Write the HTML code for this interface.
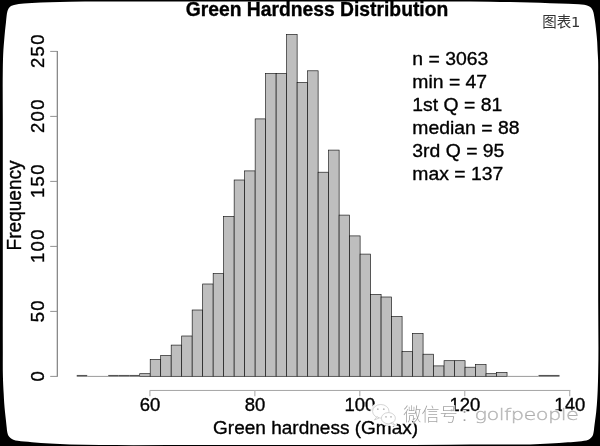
<!DOCTYPE html>
<html lang="zh"><head><meta charset="utf-8">
<title>Green Hardness Distribution</title>
<style>
html,body{margin:0;padding:0;background:#000;}
body{width:600px;height:446px;overflow:hidden;}
svg{display:block;}
.soft{filter:blur(0.45px);}
text{font-family:"Liberation Sans", sans-serif;fill:#000;}
.cjk{font-family:"Liberation Sans", "Noto Sans CJK SC", sans-serif;}
</style></head><body>
<svg width="600" height="446" viewBox="0 0 600 446">
<rect x="0" y="0" width="600" height="446" fill="#000"/>
<g class="soft"><path d="M 8.90 8.00 C 9.47 7.22 10.18 6.51 11.00 6.00 C 11.90 5.45 12.99 5.29 14.00 5.00 C 15.57 4.55 17.18 4.25 18.80 4.00 C 20.52 3.74 22.26 3.64 24.00 3.50 C 26.66 3.28 29.33 3.15 32.00 3.00 C 38.00 2.66 44.00 2.40 50.00 2.20 C 56.66 1.97 63.33 1.86 70.00 1.75 C 80.00 1.58 90.00 1.55 100.00 1.50 C 116.67 1.41 133.33 1.50 150.00 1.50 C 175.00 1.50 200.00 1.50 225.00 1.50 C 250.00 1.50 275.00 1.50 300.00 1.50 C 325.00 1.50 350.00 1.49 375.00 1.50 C 400.00 1.51 425.00 1.44 450.00 1.55 C 463.33 1.61 476.67 1.64 490.00 1.80 C 496.67 1.88 503.33 1.97 510.00 2.10 C 516.67 2.23 523.33 2.42 530.00 2.60 C 536.67 2.78 543.33 3.01 550.00 3.20 C 556.00 3.37 562.00 3.46 568.00 3.70 C 571.60 3.84 575.21 3.92 578.80 4.20 C 580.57 4.34 582.36 4.36 584.10 4.70 C 585.56 4.98 587.07 5.23 588.40 5.90 C 589.38 6.40 590.34 7.00 591.10 7.80 C 591.76 8.50 592.27 9.34 592.70 10.20 C 593.28 11.38 593.50 12.72 593.80 14.00 C 594.17 15.58 594.34 17.20 594.60 18.80 C 594.88 20.53 595.16 22.26 595.40 24.00 C 595.81 26.99 596.10 30.00 596.40 33.00 C 596.70 36.00 597.00 38.99 597.20 42.00 C 597.40 45.00 597.45 48.00 597.60 51.00 C 597.75 54.00 597.99 57.00 598.10 60.00 C 598.29 65.00 598.17 70.00 598.20 75.00 C 598.32 96.67 598.20 118.33 598.20 140.00 C 598.20 166.67 598.20 193.33 598.20 220.00 C 598.20 246.67 598.20 273.33 598.20 300.00 C 598.20 324.00 598.73 348.01 598.20 372.00 C 598.07 378.00 597.96 384.00 597.70 390.00 C 597.58 392.67 597.46 395.33 597.30 398.00 C 597.02 402.67 596.70 407.35 596.20 412.00 C 595.84 415.34 595.33 418.67 594.90 422.00 C 594.67 423.80 594.43 425.60 594.20 427.40 C 593.97 429.20 593.93 431.04 593.50 432.80 C 593.24 433.89 593.05 435.03 592.50 436.00 C 592.06 436.79 591.46 437.49 590.80 438.10 C 590.09 438.75 589.26 439.28 588.40 439.70 C 587.07 440.35 585.55 440.51 584.10 440.80 C 582.35 441.15 580.57 441.30 578.80 441.50 C 577.00 441.70 575.20 441.87 573.40 442.00 C 571.60 442.13 569.80 442.19 568.00 442.30 C 561.99 442.66 556.01 443.26 550.00 443.60 C 543.34 443.98 536.67 444.21 530.00 444.40 C 516.67 444.78 503.33 444.55 490.00 444.60 C 476.67 444.65 463.33 444.66 450.00 444.70 C 425.00 444.78 400.00 444.95 375.00 445.00 C 350.00 445.05 325.00 445.00 300.00 445.00 C 266.67 445.00 233.33 445.00 200.00 445.00 C 166.67 445.00 133.33 445.34 100.00 445.00 C 90.00 444.90 79.99 444.95 70.00 444.60 C 63.33 444.36 56.66 444.03 50.00 443.60 C 43.99 443.21 38.00 442.66 32.00 442.20 C 29.40 442.00 26.79 441.86 24.20 441.60 C 22.03 441.38 19.84 441.23 17.70 440.80 C 16.25 440.51 14.77 440.27 13.40 439.70 C 12.38 439.27 11.36 438.80 10.50 438.10 C 9.77 437.50 9.11 436.80 8.60 436.00 C 7.99 435.04 7.70 433.90 7.40 432.80 C 6.92 431.05 6.92 429.20 6.70 427.40 C 6.44 425.27 6.23 423.13 6.00 421.00 C 5.67 418.00 5.30 415.00 5.00 412.00 C 4.70 409.00 4.42 406.00 4.20 403.00 C 3.98 400.00 3.87 397.00 3.70 394.00 C 3.53 391.00 3.33 388.00 3.20 385.00 C 3.07 382.00 2.98 379.00 2.90 376.00 C 2.68 367.34 2.82 358.67 2.80 350.00 C 2.73 326.67 2.80 303.33 2.80 280.00 C 2.80 253.33 2.80 226.67 2.80 200.00 C 2.80 173.33 2.80 146.67 2.80 120.00 C 2.80 103.33 2.55 86.66 2.80 70.00 C 2.85 66.33 2.88 62.67 3.00 59.00 C 3.10 56.00 3.22 53.00 3.40 50.00 C 3.60 46.66 3.92 43.33 4.20 40.00 C 4.45 37.00 4.70 34.00 5.00 31.00 C 5.30 28.00 5.69 25.00 6.00 22.00 C 6.21 20.00 6.32 17.99 6.60 16.00 C 6.84 14.32 6.94 12.60 7.50 11.00 C 7.86 9.96 8.24 8.89 8.90 8.00 Z" fill="#fff"/></g>
<g fill="#bebebe" stroke="#111" stroke-width="0.65" stroke-linejoin="miter">
<rect x="139.70" y="373.70" width="10.50" height="2.60"/>
<rect x="150.20" y="359.40" width="10.50" height="16.90"/>
<rect x="160.69" y="355.50" width="10.50" height="20.80"/>
<rect x="171.19" y="345.10" width="10.50" height="31.20"/>
<rect x="181.69" y="336.00" width="10.50" height="40.30"/>
<rect x="192.18" y="310.00" width="10.50" height="66.30"/>
<rect x="202.68" y="284.00" width="10.49" height="92.30"/>
<rect x="213.17" y="273.60" width="10.50" height="102.70"/>
<rect x="223.66" y="216.40" width="10.50" height="159.90"/>
<rect x="234.16" y="180.00" width="10.50" height="196.30"/>
<rect x="244.66" y="170.90" width="10.50" height="205.40"/>
<rect x="255.15" y="118.90" width="10.49" height="257.40"/>
<rect x="265.64" y="73.40" width="10.50" height="302.90"/>
<rect x="276.14" y="73.40" width="10.50" height="302.90"/>
<rect x="286.63" y="34.40" width="10.50" height="341.90"/>
<rect x="297.13" y="82.50" width="10.50" height="293.80"/>
<rect x="307.62" y="70.80" width="10.50" height="305.50"/>
<rect x="318.12" y="172.20" width="10.50" height="204.10"/>
<rect x="328.62" y="150.10" width="10.50" height="226.20"/>
<rect x="339.11" y="215.10" width="10.50" height="161.20"/>
<rect x="349.61" y="235.90" width="10.50" height="140.40"/>
<rect x="360.10" y="254.10" width="10.50" height="122.20"/>
<rect x="370.60" y="294.40" width="10.50" height="81.90"/>
<rect x="381.09" y="297.00" width="10.50" height="79.30"/>
<rect x="391.59" y="316.50" width="10.50" height="59.80"/>
<rect x="402.08" y="351.60" width="10.49" height="24.70"/>
<rect x="412.57" y="333.40" width="10.50" height="42.90"/>
<rect x="423.07" y="354.20" width="10.50" height="22.10"/>
<rect x="433.56" y="365.90" width="10.50" height="10.40"/>
<rect x="444.06" y="360.70" width="10.50" height="15.60"/>
<rect x="454.56" y="360.70" width="10.50" height="15.60"/>
<rect x="465.05" y="367.20" width="10.50" height="9.10"/>
<rect x="475.55" y="364.60" width="10.50" height="11.70"/>
<rect x="486.04" y="373.70" width="10.50" height="2.60"/>
<rect x="496.54" y="372.40" width="10.50" height="3.90"/>
</g>
<g fill="#555">
<rect x="76.73" y="374.95" width="10.50" height="1.7"/>
<rect x="108.22" y="374.95" width="10.50" height="1.7"/>
<rect x="118.71" y="374.95" width="10.49" height="1.7"/>
<rect x="129.21" y="374.95" width="10.50" height="1.7"/>
<rect x="538.52" y="374.95" width="10.49" height="1.7"/>
<rect x="549.01" y="374.95" width="10.50" height="1.7"/>
</g>
<path d="M 87.23 376.40 H 108.22 M 507.03 376.40 H 538.52" stroke="#808080" stroke-width="0.8" fill="none"/>
<g fill="none">
<path d="M 57.3 376.70 V 50.90" stroke="#7a7a7a" stroke-width="1.15"/>
<path d="M 50.2 376.40 H 57.3 M 50.2 311.40 H 57.3 M 50.2 246.40 H 57.3 M 50.2 181.40 H 57.3 M 50.2 116.40 H 57.3 M 50.2 51.40 H 57.3" stroke="#8c8c8c" stroke-width="0.95"/>
<path d="M 149.70 390.45 H 570.40" stroke="#a4a4a4" stroke-width="1"/>
<path d="M 149.90 390.4 V 396.2 M 254.85 390.4 V 396.2 M 359.80 390.4 V 396.2 M 464.75 390.4 V 396.2 M 569.70 390.4 V 396.2" stroke="#b4b4b4" stroke-width="1.2"/>
</g>
<g class="soft" stroke="#000" stroke-width="0.35" stroke-linejoin="round">
<text transform="translate(150.00 411.20)" font-size="18.5" text-anchor="middle">60</text>
<text transform="translate(254.95 411.20)" font-size="18.5" text-anchor="middle">80</text>
<text transform="translate(359.90 411.20)" font-size="18.5" text-anchor="middle">100</text>
<text transform="translate(464.85 411.20)" font-size="18.5" text-anchor="middle">120</text>
<text transform="translate(569.80 411.20)" font-size="18.5" text-anchor="middle">140</text>
<text transform="translate(44.00 375.65) rotate(-90)" font-size="18.5" text-anchor="middle" letter-spacing="1.3">0</text>
<text transform="translate(44.00 310.65) rotate(-90)" font-size="18.5" text-anchor="middle" letter-spacing="1.3">50</text>
<text transform="translate(44.00 245.65) rotate(-90)" font-size="18.5" text-anchor="middle" letter-spacing="1.3">100</text>
<text transform="translate(44.00 180.65) rotate(-90)" font-size="18.5" text-anchor="middle" letter-spacing="1.3">150</text>
<text transform="translate(44.00 115.65) rotate(-90)" font-size="18.5" text-anchor="middle" letter-spacing="1.3">200</text>
<text transform="translate(44.00 50.65) rotate(-90)" font-size="18.5" text-anchor="middle" letter-spacing="1.3">250</text>
<text transform="translate(315.60 434.00) scale(1.04 1.0)" font-size="18.3" text-anchor="middle">Green hardness (Gmax)</text>
<text transform="translate(20.70 205.40) rotate(-90) scale(1.02 1.07)" font-size="18.7" text-anchor="middle">Frequency</text>
<text transform="translate(317.00 15.50)" font-size="19.3" text-anchor="middle" font-weight="bold">Green Hardness Distribution</text>
<text transform="translate(412.30 65.10) scale(1.037 1.0)" font-size="18.7" text-anchor="start">n = 3063</text>
<text transform="translate(412.30 88.05) scale(1.037 1.0)" font-size="18.7" text-anchor="start">min = 47</text>
<text transform="translate(412.30 111.00) scale(1.037 1.0)" font-size="18.7" text-anchor="start">1st Q = 81</text>
<text transform="translate(412.30 133.95) scale(1.037 1.0)" font-size="18.7" text-anchor="start">median = 88</text>
<text transform="translate(412.30 156.90) scale(1.037 1.0)" font-size="18.7" text-anchor="start">3rd Q = 95</text>
<text transform="translate(412.30 179.85) scale(1.037 1.0)" font-size="18.7" text-anchor="start">max = 137</text>
</g>
<text class="cjk soft" x="542.2" y="26.7" font-size="14.5" fill="#333" style="fill:#333">图表<tspan x="570.9" font-family="DejaVu Sans, sans-serif" font-size="14.7">1</tspan></text>
<g class="soft">
<g fill="#fff" stroke="#fff" stroke-width="4.4" stroke-linejoin="round" opacity="0.93"><ellipse cx="380.8" cy="411.3" rx="8.2" ry="6.8"/><path d="M 377 416.6 l -2.6 3.4 l 4.6 -2 z"/><ellipse cx="388.4" cy="418.2" rx="7" ry="5.6"/><path d="M 392.5 422.2 l 2.2 2.6 l -4.2 -1.6 z"/></g>
<g fill="#fff" stroke="#c4c4c4" stroke-width="0.7" stroke-linejoin="round"><ellipse cx="380.8" cy="411.3" rx="8.2" ry="6.8"/><path d="M 377 416.6 l -2.6 3.4 l 4.6 -2 z"/><ellipse cx="388.4" cy="418.2" rx="7" ry="5.6"/><path d="M 392.5 422.2 l 2.2 2.6 l -4.2 -1.6 z"/></g>
<g fill="#b8b8b8"><circle cx="386" cy="416.8" r="0.9"/><circle cx="391" cy="416.8" r="0.9"/><circle cx="377.8" cy="409.2" r="0.9"/><circle cx="383.8" cy="409.2" r="0.9"/></g>
<filter id="halo" x="-5%" y="-40%" width="110%" height="180%"><feMorphology in="SourceAlpha" operator="dilate" radius="1.1" result="d"/><feGaussianBlur in="d" stdDeviation="0.5" result="b"/><feFlood flood-color="#fff" flood-opacity="0.9"/><feComposite in2="b" operator="in" result="h"/><feMerge><feMergeNode in="h"/><feMergeNode in="SourceGraphic"/></feMerge></filter>
<text x="403.2" y="421.2" font-size="18.2" font-weight="300" filter="url(#halo)" style="font-family:'Liberation Sans','Noto Sans CJK SC',sans-serif;fill:#a2a2a2">微信号<tspan dx="4.2">:</tspan></text>
<text transform="translate(474.4 419.9) scale(1.262 1)" font-size="16.6" font-weight="200" letter-spacing="-0.45" filter="url(#halo)" style="font-family:'DejaVu Sans',sans-serif;fill:#cbcbcb;stroke:#adadad;stroke-width:0.4px">golfpeople</text>
</g>
</svg>
</body></html>
